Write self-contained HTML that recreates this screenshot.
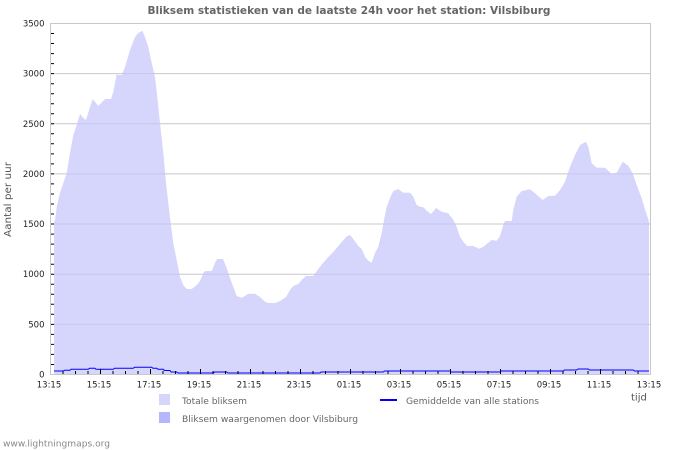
<!DOCTYPE html>
<html><head><meta charset="utf-8"><style>
html,body{margin:0;padding:0;background:#fff;}
svg{display:block;font-family:"DejaVu Sans","Liberation Sans",sans-serif;}
</style></head><body>
<svg width="700" height="450" viewBox="0 0 700 450" xmlns="http://www.w3.org/2000/svg">
<defs>
<clipPath id="fc"><polygon id="fp" points="54,374.5 54,222 55,220 56.7,207 60,193 63.3,183 66.7,173 70,153 73.3,135 76.7,125 80,114 83.3,118 86,120 90,107 92.7,99 98.3,106 105,99 111,99 113.3,92 116.7,74 118,75 121.7,75 125,67 130,50 135,37 138.3,33 142.3,30.7 145,37 148.3,47 151.7,63 155,77 157.3,97 160,123 163.3,153 166,183 168.3,203 170.7,223 173.3,243 176.7,260 180,277 183.3,285 186.7,289 191.7,289 196.7,285 200,281 203.3,273 205,271 211.7,271 215,263 217,259 223,259 226.7,268 230,278 233.3,287 236.7,296 241.7,297.7 245,296 248,293.7 255,293.7 260,297 265,301.7 268,303 275,303 280,301 286,297 290,290 293.3,286 298.3,284 301.7,280 306,276 313.3,276 318.3,269 323.3,262.7 328.3,257 333.3,252 340,244 346.7,236.5 350,235 353.3,239 358.3,246 361.7,249 365,256.7 368.3,260.7 371.7,262.7 375,253 378.3,246.7 381.7,233 384,220 386.7,206.7 390,198 393.3,191 398.3,189 403.3,192.7 410,192.7 413.3,196.7 416.7,205 420,206.7 423.3,207.3 426.7,210.7 431,214 436,208 441.7,211.7 448.3,213.3 453.3,220 456.7,226.7 460,236.7 463.3,241.7 467.3,246 473.3,246 479.3,248.7 483.3,246.7 486.7,244 491.7,240 496.7,240.7 500,236 503.3,225 505,221 511.7,221 513.3,210 516.7,196.7 521.7,191 530,189.3 535,193.3 542.7,200 548.3,196 555,195.7 560,190 565,181.7 570,166.7 575,155 580,145 586,141.7 588.3,146.7 591.7,163.3 596.7,167.7 605,167.7 611.7,174 616.7,172.7 622.7,161.7 628.3,165.7 632.7,173.3 636.7,185 641.7,198.3 645.7,211.7 648.3,219.3 649,222 649,374.5"/></clipPath>
</defs>

<!-- title -->
<text x="349" y="14" text-anchor="middle" font-size="10.5" font-weight="bold" fill="#666" textLength="403" lengthAdjust="spacingAndGlyphs">Bliksem statistieken van de laatste 24h voor het station: Vilsbiburg</text>

<!-- grid under -->
<g stroke="#c8c8c8" stroke-width="1">
<line x1="50.5" y1="73.6" x2="650" y2="73.6"/>
<line x1="50.5" y1="123.8" x2="650" y2="123.8"/>
<line x1="50.5" y1="173.9" x2="650" y2="173.9"/>
<line x1="50.5" y1="224" x2="650" y2="224"/>
<line x1="50.5" y1="274.2" x2="650" y2="274.2"/>
<line x1="50.5" y1="324.4" x2="650" y2="324.4"/>
</g>

<!-- fill -->
<use href="#fp" fill="#d6d6fc"/>
<g clip-path="url(#fc)" stroke="#c6c6ee" stroke-width="1">
<line x1="50.5" y1="73.6" x2="650" y2="73.6"/>
<line x1="50.5" y1="123.8" x2="650" y2="123.8"/>
<line x1="50.5" y1="173.9" x2="650" y2="173.9"/>
<line x1="50.5" y1="224" x2="650" y2="224"/>
<line x1="50.5" y1="274.2" x2="650" y2="274.2"/>
<line x1="50.5" y1="324.4" x2="650" y2="324.4"/>
</g>

<!-- average line -->
<polyline fill="none" stroke="#0000ff" stroke-width="1" points="54,371 63.3,371 64.5,370.3 70,370.3 71,369.3 88.3,369.3 89.5,368.3 95,368.3 96,369.3 113.3,369.3 114.5,368.3 133.3,368.3 134.5,367.3 151.7,367.3 153,368.3 156.7,368.3 158,369.3 163.3,369.3 164.5,370.5 170,370.5 171,372 176.7,372 178,373 213.3,373 214.5,372 226.7,372 228,373 320,373 321,372 383.3,372 384.5,371 450,371 451,372 500,372 501,371 563.3,371 564.5,370 576.7,370 578,369 588.3,369 589.5,370 633.3,370 634.5,371 649,371"/>

<!-- frame -->
<rect x="50.5" y="23.5" width="600" height="351" fill="none" stroke="#c8c8c8" stroke-width="1"/>

<!-- y minor ticks -->
<path stroke="#000" stroke-width="1" d="M51 33.5h3M51 43.5h3M51 53.6h3M51 63.6h3M51 73.6h3M51 83.7h3M51 93.7h3M51 103.7h3M51 113.8h3M51 123.8h3M51 133.8h3M51 143.8h3M51 153.9h3M51 163.9h3M51 173.9h3M51 183.9h3M51 194h3M51 204h3M51 214h3M51 224h3M51 234.1h3M51 244.1h3M51 254.1h3M51 264.2h3M51 274.2h3M51 284.2h3M51 294.3h3M51 304.3h3M51 314.3h3M51 324.4h3M51 334.4h3M51 344.4h3M51 354.4h3M51 364.5h3"/>

<!-- x ticks -->
<path stroke="#000" stroke-width="1" d="M63 374v-3M75.5 374v-3M88 374v-3M100.5 374v-5M113 374v-3M125.5 374v-3M138 374v-3M150.5 374v-5M163 374v-3M175.5 374v-3M188 374v-3M200.5 374v-5M213 374v-3M225.5 374v-3M238 374v-3M250.5 374v-5M263 374v-3M275.5 374v-3M288 374v-3M300.5 374v-5M313 374v-3M325.5 374v-3M338 374v-3M350.5 374v-5M363 374v-3M375.5 374v-3M388 374v-3M400.5 374v-5M413 374v-3M425.5 374v-3M438 374v-3M450.5 374v-5M463 374v-3M475.5 374v-3M488 374v-3M500.5 374v-5M513 374v-3M525.5 374v-3M538 374v-3M550.5 374v-5M563 374v-3M575.5 374v-3M588 374v-3M600.5 374v-5M613 374v-3M625.5 374v-3M638 374v-3"/>

<!-- y labels -->
<g font-size="8.5" fill="#222" text-anchor="end">
<text x="44.5" y="26.5">3500</text>
<text x="44.5" y="76.6">3000</text>
<text x="44.5" y="126.8">2500</text>
<text x="44.5" y="176.9">2000</text>
<text x="44.5" y="227">1500</text>
<text x="44.5" y="277.2">1000</text>
<text x="44.5" y="327.4">500</text>
<text x="44.5" y="377.5">0</text>
</g>

<!-- x labels -->
<g font-size="8.5" fill="#222" text-anchor="middle">
<text x="49" y="387.5">13:15</text>
<text x="99" y="387.5">15:15</text>
<text x="149" y="387.5">17:15</text>
<text x="199" y="387.5">19:15</text>
<text x="249" y="387.5">21:15</text>
<text x="299" y="387.5">23:15</text>
<text x="349" y="387.5">01:15</text>
<text x="399" y="387.5">03:15</text>
<text x="449" y="387.5">05:15</text>
<text x="499" y="387.5">07:15</text>
<text x="549" y="387.5">09:15</text>
<text x="599" y="387.5">11:15</text>
<text x="649" y="387.5">13:15</text>
</g>

<text x="631" y="400.5" font-size="10" fill="#555">tijd</text>
<text transform="translate(11,199.5) rotate(-90)" text-anchor="middle" font-size="10" fill="#555" textLength="75" lengthAdjust="spacingAndGlyphs">Aantal per uur</text>

<!-- legend -->
<rect x="159" y="394" width="11" height="11" fill="#d6d6fc"/>
<rect x="159" y="412" width="11" height="11" fill="#b6b6fc"/>
<text x="182" y="404" font-size="9" fill="#666" textLength="65" lengthAdjust="spacingAndGlyphs">Totale bliksem</text>
<text x="182" y="422" font-size="9" fill="#666" textLength="176" lengthAdjust="spacingAndGlyphs">Bliksem waargenomen door Vilsbiburg</text>
<line x1="380" y1="400" x2="397" y2="400" stroke="#0000ff" stroke-width="2"/>
<text x="406" y="404" font-size="9" fill="#666" textLength="133" lengthAdjust="spacingAndGlyphs">Gemiddelde van alle stations</text>

<text x="3" y="446.5" font-size="9" fill="#888" textLength="107" lengthAdjust="spacingAndGlyphs">www.lightningmaps.org</text>
</svg>
</body></html>
